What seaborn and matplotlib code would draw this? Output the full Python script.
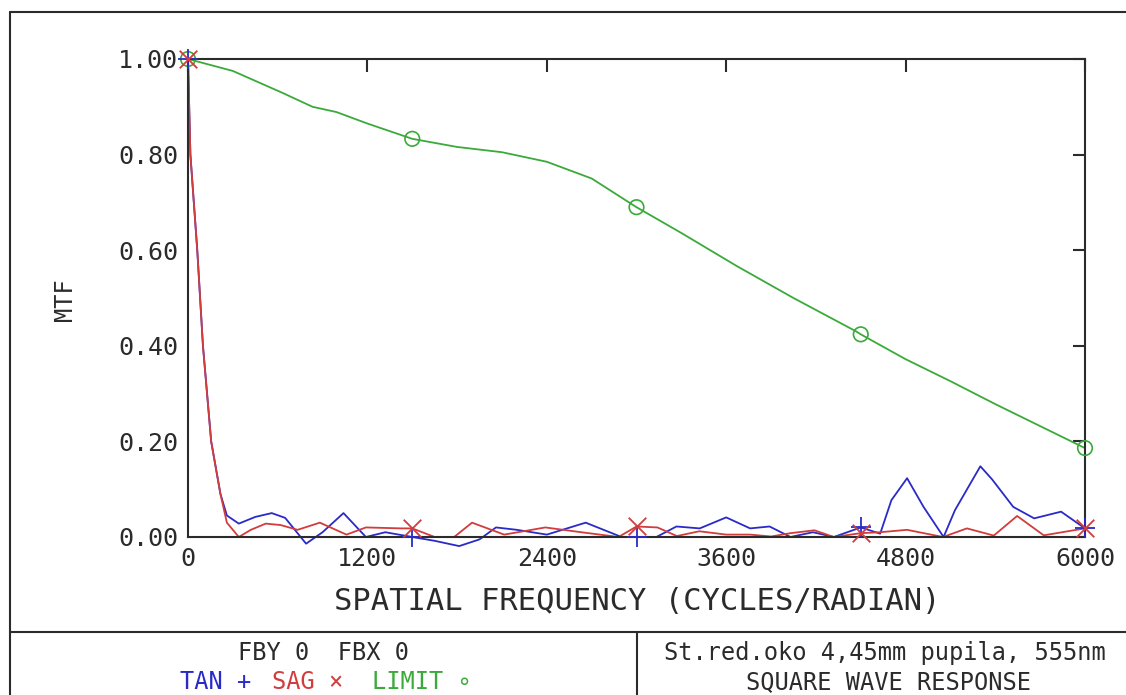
import numpy as np
import pandas as pd
import seaborn as sns
import matplotlib.pyplot as plt
from matplotlib.lines import Line2D

# ---------------- data ----------------
tan_freq = [0, 16, 62, 100, 155, 217, 260, 340, 450, 560, 650, 790, 900, 1040, 1190,
            1320, 1500, 1650, 1814, 1950, 2060, 2200, 2400, 2660, 2900, 3000, 3133,
            3267, 3423, 3600, 3760, 3890, 4030, 4180, 4320, 4500, 4630, 4705, 4810,
            4920, 5054, 5130, 5300, 5380, 5520, 5660, 5840, 6000]
tan_mtf = [1.00, 0.80, 0.60, 0.40, 0.20, 0.09, 0.045, 0.028, 0.042, 0.050, 0.040,
           -0.014, 0.010, 0.050, 0.000, 0.010, 0.000, -0.008, -0.019, -0.005, 0.020,
           0.015, 0.005, 0.030, 0.000, 0.000, 0.000, 0.022, 0.018, 0.041, 0.018,
           0.022, 0.000, 0.010, 0.000, 0.020, 0.007, 0.077, 0.123, 0.063, 0.000,
           0.056, 0.148, 0.120, 0.063, 0.039, 0.053, 0.018]

sag_freq = [0, 16, 62, 100, 155, 217, 260, 340, 420, 520, 620, 733, 882, 1060, 1190,
            1430, 1500, 1650, 1780, 1900, 2115, 2390, 2630, 2880, 3000, 3140, 3270,
            3420, 3600, 3760, 3900, 4030, 4190, 4320, 4500, 4630, 4810, 5050, 5210,
            5390, 5546, 5724, 6000]
sag_mtf = [1.00, 0.80, 0.60, 0.40, 0.20, 0.09, 0.030, 0.000, 0.015, 0.028, 0.025,
           0.015, 0.030, 0.005, 0.020, 0.018, 0.018, 0.000, 0.000, 0.030, 0.005,
           0.020, 0.010, 0.000, 0.022, 0.020, 0.002, 0.012, 0.005, 0.005, 0.001,
           0.008, 0.014, 0.000, 0.008, 0.010, 0.015, 0.000, 0.018, 0.003, 0.044,
           0.0035, 0.018]

lim_freq = [0, 300, 633, 833, 993, 1200, 1500, 1800, 2100, 2400, 2700, 3000, 3300,
            3670, 4050, 4470, 4500, 4800, 5100, 5400, 5700, 6000]
lim_mtf = [1.00, 0.975, 0.929, 0.900, 0.889, 0.865, 0.833, 0.816, 0.805, 0.785, 0.750,
           0.690, 0.636, 0.567, 0.500, 0.430, 0.424, 0.372, 0.326, 0.278, 0.232, 0.186]

marker_freq = [0, 1500, 3000, 4500, 6000]
x_ticks = [0, 1200, 2400, 3600, 4800, 6000]
y_ticks = [0.0, 0.2, 0.4, 0.6, 0.8, 1.0]

df_tan = pd.DataFrame({"freq": tan_freq, "mtf": tan_mtf})
df_sag = pd.DataFrame({"freq": sag_freq, "mtf": sag_mtf})
df_lim = pd.DataFrame({"freq": lim_freq, "mtf": lim_mtf})

c_tan = "#2a2ac8"
c_sag = "#d23c3c"
c_lim = "#3aaa3a"
ink = "#2b2b2b"

# ---------------- figure ----------------
sns.set_style("white")
plt.rcParams["font.family"] = ["DejaVu Sans Mono", "DejaVu Sans"]

fig = plt.figure(figsize=(11.26, 6.95), dpi=100)
ax = fig.add_axes([188 / 1126, 1 - 537 / 695, (1085 - 188) / 1126, (537 - 59) / 695])

sns.lineplot(data=df_lim, x="freq", y="mtf", ax=ax, color=c_lim, lw=1.3, clip_on=False)
sns.lineplot(data=df_tan, x="freq", y="mtf", ax=ax, color=c_tan, lw=1.3, clip_on=False)
sns.lineplot(data=df_sag, x="freq", y="mtf", ax=ax, color=c_sag, lw=1.3, clip_on=False)

sns.scatterplot(data=df_lim[df_lim.freq.isin(marker_freq)], x="freq", y="mtf", ax=ax,
                marker="o", s=110, facecolor="none", edgecolor=c_lim, linewidth=1.2,
                zorder=5, clip_on=False)
sns.scatterplot(data=df_tan[df_tan.freq.isin(marker_freq)], x="freq", y="mtf", ax=ax,
                marker="+", s=200, color=c_tan, linewidth=1.3, zorder=6, clip_on=False)
sns.scatterplot(data=df_sag[df_sag.freq.isin(marker_freq)], x="freq", y="mtf", ax=ax,
                marker="x", s=160, color=c_sag, linewidth=1.3, zorder=6, clip_on=False)

ax.set_xlim(0, 6000)
ax.set_ylim(0, 1.0)
ax.set_xticks(x_ticks)
ax.set_yticks(y_ticks)
ax.set_xticklabels([str(v) for v in x_ticks])
ax.set_yticklabels(["%.2f" % v for v in y_ticks])
ax.tick_params(direction="in", length=9, width=1.5, color=ink,
               top=True, right=True, labelsize=18, labelcolor=ink, pad=7)
for s in ax.spines.values():
    s.set_color(ink)
    s.set_linewidth(1.5)
ax.set_xlabel("")
ax.set_ylabel("")

fig.text(637 / 1126, 1 - 601 / 695, "SPATIAL FREQUENCY (CYCLES/RADIAN)", ha="center",
         va="center", fontsize=22, color=ink)
fig.text(65 / 1126, 1 - 300 / 695, "MTF", ha="center", va="center", rotation=90,
         fontsize=17, color=ink)

# frame and boxes
fig.add_artist(Line2D([10 / 1126, 1], [1 - 12 / 695, 1 - 12 / 695], color=ink, lw=1.5))
fig.add_artist(Line2D([10 / 1126, 10 / 1126], [0, 1 - 12 / 695], color=ink, lw=1.5))
fig.add_artist(Line2D([10 / 1126, 1], [1 - 632 / 695, 1 - 632 / 695], color=ink, lw=1.5))
fig.add_artist(Line2D([637 / 1126, 637 / 1126], [0, 1 - 632 / 695], color=ink, lw=1.5))

fig.text(323 / 1126, 1 - 653 / 695, "FBY 0  FBX 0", ha="center", va="center",
         fontsize=17, color=ink)
fig.text(885 / 1126, 1 - 653 / 695, "St.red.oko 4,45mm pupila, 555nm", ha="center",
         va="center", fontsize=17, color=ink)
fig.text(889 / 1126, 1 - 682 / 695, "SQUARE WAVE RESPONSE", ha="center", va="center",
         fontsize=17, color=ink)

fig.text(180 / 1126, 1 - 682 / 695, "TAN +", ha="left", va="center", fontsize=17,
         color=c_tan)
fig.text(272 / 1126, 1 - 682 / 695, "SAG \u00d7", ha="left", va="center", fontsize=17,
         color=c_sag)
fig.text(372 / 1126, 1 - 682 / 695, "LIMIT \u2218", ha="left", va="center", fontsize=17,
         color=c_lim)

fig.savefig("out.png", dpi=100)
